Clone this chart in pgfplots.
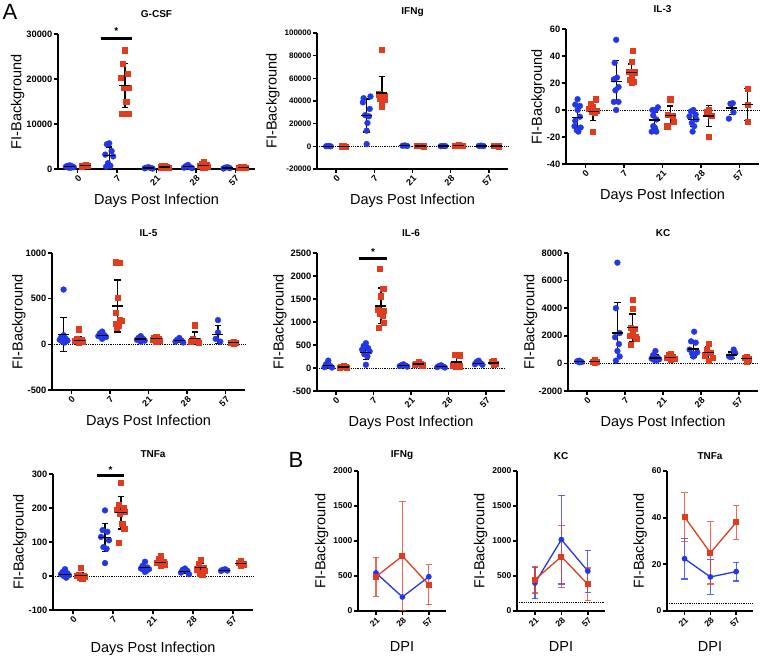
\documentclass[border=0pt]{standalone}
\usepackage{pgfplots}
\pgfplotsset{compat=1.18}
\usepackage{fontspec}
\setmainfont{Liberation Sans}
\definecolor{dblue}{RGB}{35,55,230}
\definecolor{dred}{RGB}{225,60,30}
\pgfplotsset{
  panelA/.style={
    scale only axis, clip=false, anchor=south west,
    scaled y ticks=false,
    axis lines*=left,
    axis line style={line width=1.5pt, -},
    xmin=-0.5, xmax=4.5,
    xtick={0,1,2,3,4}, xticklabels={0,7,21,28,57},
    tick align=outside, major tick length=4pt,
    tick style={line width=1.5pt, black},
    xticklabel style={rotate=45, anchor=north east, inner sep=1pt, font=\bfseries\fontsize{9}{9}\selectfont},
    yticklabel style={font=\bfseries\fontsize{9.3}{9}\selectfont, inner sep=1.5pt},
    title style={font=\bfseries\fontsize{10}{12}\selectfont, yshift=7pt},
    xlabel={Days Post Infection}, ylabel={FI-Background},
    label style={font=\fontsize{14.5}{16}\selectfont},
    xlabel style={yshift=-3pt},
    ylabel shift=-3pt,
  },
  panelB/.style={
    scale only axis, clip=false, anchor=south west,
    scaled y ticks=false,
    width=88pt, height=140pt,
    axis lines*=left,
    axis line style={line width=1.7pt, -},
    xmin=-0.68, xmax=2.65,
    xtick={0,1,2}, xticklabels={21,28,57},
    tick align=outside, major tick length=4pt,
    tick style={line width=1.7pt, black},
    xticklabel style={rotate=45, anchor=north east, inner sep=1pt, font=\bfseries\fontsize{8.5}{9}\selectfont},
    yticklabel style={font=\bfseries\fontsize{8.5}{9}\selectfont, inner sep=1.5pt},
    title style={font=\bfseries\fontsize{10}{12}\selectfont, yshift=2pt},
    xlabel={DPI}, ylabel={FI-Background},
    label style={font=\fontsize{14.5}{16}\selectfont},
    xlabel style={yshift=-9pt},
  },
  bl/.style={only marks, mark=*, mark size=2.9pt, color=dblue},
  rd/.style={only marks, mark=square*, mark size=2.6pt, color=dred},
  mn/.style={only marks, mark=-, mark size=5.5pt, black, mark options={line width=1.3pt},
    error bars/.cd, y dir=both, y explicit,
    error bar style={line width=1.2pt, black},
    error mark options={rotate=90, black, mark size=3.2pt, line width=1.2pt}},
  zl/.style={black, densely dotted, line width=0.8pt, forget plot},
  bline/.style={color=dblue, mark=*, mark size=2.2pt, line width=1.3pt,
    error bars/.cd, y dir=both, y explicit,
    error bar style={line width=1.2pt, dblue, opacity=0.75},
    error mark options={rotate=90, dblue, opacity=0.75, mark size=3.2pt, line width=1.2pt}},
  rline/.style={color=dred, mark=square*, mark size=2.4pt, line width=1.3pt,
    error bars/.cd, y dir=both, y explicit,
    error bar style={line width=1.2pt, dred, opacity=0.75},
    error mark options={rotate=90, dred, opacity=0.75, mark size=3.2pt, line width=1.2pt}},
}
\begin{document}
\begin{tikzpicture}
\useasboundingbox (0pt,0pt) rectangle (760pt,656pt);
\node[font=\fontsize{22}{22}\selectfont] at (10pt,644pt) {A};
\node[font=\fontsize{22}{22}\selectfont] at (296pt,196pt) {B};

% ---------------- G-CSF
\begin{axis}[panelA, at={(58pt,487pt)}, width=197pt, height=135pt,
  title={G-CSF}, ymin=0, ymax=30000, ytick={0,10000,20000,30000},
  yticklabels={0,10000,20000,30000}]
\addplot[bl] coordinates {(-0.2,800) (-0.26,700) (-0.14,600) (-0.3,500) (-0.1,400) (-0.23,300) (-0.17,300)
 (0.8,5700) (0.74,5500) (0.86,4000) (0.7,3200) (0.9,2800) (0.77,1300) (0.83,700) (0.72,500)
 (1.8,400) (1.74,300) (1.86,200) (1.7,150) (1.9,100)
 (2.8,900) (2.74,600) (2.86,400) (2.7,300) (2.9,200)
 (3.8,400) (3.74,300) (3.86,200) (3.7,100)};
\addplot[rd] coordinates {(0.2,900) (0.14,800) (0.26,700) (0.1,600)
 (1.2,26400) (1.14,23400) (1.26,21100) (1.1,20300) (1.3,18100) (1.17,18100) (1.23,15000) (1.12,12200) (1.28,12200)
 (2.2,700) (2.14,600) (2.26,500) (2.1,400) (2.3,300) (2.17,200)
 (3.2,1500) (3.14,1200) (3.26,900) (3.1,700) (3.3,500) (3.17,300) (3.23,200)
 (4.2,500) (4.14,400) (4.26,300) (4.1,200)};
\addplot[mn] coordinates {(-0.2,550) +- (0,180) (0.2,750) +- (0,130) (0.8,3000) +- (0,1900) (1.2,18600) +- (0,4900)
 (1.8,230) +- (0,120) (2.2,450) +- (0,190) (2.8,480) +- (0,280) (3.2,760) +- (0,470) (3.8,250) +- (0,130) (4.2,350) +- (0,130)};
\draw[line width=3pt] (axis cs:0.58,28900) -- (axis cs:1.37,28900);
\node[font=\bfseries\fontsize{10}{10}\selectfont] at (axis cs:0.98,30600) {*};
\end{axis}

% ---------------- IFNg
\begin{axis}[panelA, at={(317pt,487pt)}, width=191pt, height=136pt,
  title={IFNg}, ymin=-20000, ymax=100000, ytick={-20000,0,20000,40000,60000,80000,100000},
  yticklabels={-20000,0,20000,40000,60000,80000,100000}, ylabel shift=0pt,
  yticklabel style={font=\bfseries\fontsize{8}{9}\selectfont}]
\addplot[zl] coordinates {(-0.5,0) (4.5,0)};
\addplot[bl] coordinates {(-0.2,300) (-0.26,100) (-0.14,0)
 (0.9,44000) (0.72,42500) (0.7,38800) (0.88,33000) (0.76,27500) (0.86,26500) (0.82,20600) (0.8,13800) (0.8,2000)
 (1.8,800) (1.74,500) (1.86,300)
 (2.8,300) (2.74,100) (2.86,200)
 (3.8,600) (3.74,400) (3.86,200)};
\addplot[rd] coordinates {(0.2,200) (0.14,100) (0.26,0)
 (1.2,85300) (1.12,46000) (1.28,45000) (1.2,44000) (1.14,42000) (1.26,41000) (1.2,39000) (1.2,35000)
 (2.2,600) (2.14,500) (2.26,400) (2.1,300) (2.3,200)
 (3.2,1200) (3.14,900) (3.26,700) (3.1,500) (3.3,300)
 (4.2,400) (4.14,300) (4.26,200)};
\addplot[mn] coordinates {(-0.2,130) +- (0,150) (0.2,100) +- (0,100) (0.8,27200) +- (0,14600) (1.2,47000) +- (0,14700)
 (1.8,530) +- (0,250) (2.2,400) +- (0,150) (2.8,200) +- (0,100) (3.2,720) +- (0,350) (3.8,400) +- (0,200) (4.2,300) +- (0,100)};
\end{axis}

% ---------------- IL-3
\begin{axis}[panelA, at={(566pt,492pt)}, width=193pt, height=135pt,
  title={IL-3}, ymin=-40, ymax=60, ytick={-40,-20,0,20,40,60},
  yticklabels={-40,-20,0,20,40,60}]
\addplot[zl] coordinates {(-0.5,0) (4.5,0)};
\addplot[bl] coordinates {(-0.2,8) (-0.26,4) (-0.14,3) (-0.2,0) (-0.14,-5) (-0.26,-8) (-0.28,-12) (-0.12,-13) (-0.22,-15) (-0.18,-16)
 (0.8,52) (0.76,35) (0.82,24) (0.74,22.7) (0.86,17) (0.78,14.6) (0.74,6) (0.86,6) (0.8,0)
 (1.88,2) (1.74,0) (1.82,0) (1.76,-4) (1.84,-7) (1.76,-12) (1.72,-16) (1.84,-16) (1.8,-13)
 (2.8,0) (2.74,-1) (2.86,-3.5) (2.7,-4.7) (2.88,-7) (2.76,-9.6) (2.82,-12) (2.78,-16)
 (3.82,5) (3.76,4.6) (3.84,-1.7) (3.72,-6.4)};
\addplot[rd] coordinates {(0.26,8) (0.14,4.6) (0.2,2.7) (0.1,0.7) (0.3,-0.5) (0.16,-1) (0.24,-2) (0.2,-16)
 (1.22,44) (1.2,36) (1.12,28.6) (1.28,28) (1.2,25) (1.14,22.7) (1.26,20.7) (1.2,20)
 (2.2,8) (2.14,-3.5) (2.26,-4) (2.28,-8.4) (2.12,-12)
 (3.2,0) (3.14,-1) (3.26,-4) (3.2,-20)
 (4.2,16) (4.2,4) (4.2,-8.4)};
\addplot[mn] coordinates {(-0.2,-5.5) +- (0,8) (0.2,-1) +- (0,6.5) (0.8,21) +- (0,15.5) (1.2,28) +- (0,6)
 (1.8,-7.5) +- (0,6) (2.2,-4) +- (0,7) (2.8,-7) +- (0,5) (3.2,-4.4) +- (0,7.7) (3.8,1.5) +- (0,5) (4.2,4) +- (0,12)};
\end{axis}

% ---------------- IL-5
\begin{axis}[panelA, at={(52pt,266pt)}, width=193pt, height=137pt,
  title={IL-5}, ymin=-500, ymax=1000, ytick={-500,0,500,1000},
  yticklabels={-500,0,500,1000}, ylabel shift=-5pt]
\addplot[zl] coordinates {(-0.5,0) (4.5,0)};
\addplot[bl] coordinates {(-0.2,600) (-0.2,100) (-0.26,80) (-0.14,60) (-0.3,50) (-0.1,40) (-0.23,30) (-0.17,20)
 (0.8,140) (0.74,120) (0.86,100) (0.7,90) (0.9,80) (0.8,60)
 (1.8,90) (1.74,70) (1.86,60) (1.7,50) (1.9,40) (1.8,30)
 (2.8,70) (2.74,50) (2.86,40) (2.7,30) (2.9,20)
 (3.8,265) (3.8,130) (3.74,60) (3.86,30)};
\addplot[rd] coordinates {(0.2,165) (0.14,60) (0.26,50) (0.1,40) (0.3,30) (0.2,20)
 (1.14,900) (1.26,890) (1.2,510) (1.14,350) (1.26,270) (1.3,260) (1.14,230) (1.22,200) (1.18,180)
 (2.2,80) (2.14,70) (2.26,60) (2.1,50) (2.3,40) (2.2,30)
 (3.2,210) (3.14,60) (3.26,40) (3.1,30) (3.3,20)
 (4.2,30) (4.14,20) (4.26,15) (4.2,10)};
\addplot[mn] coordinates {(-0.2,105) +- (0,185) (0.2,45) +- (0,45) (0.8,95) +- (0,28) (1.2,420) +- (0,285)
 (1.8,60) +- (0,20) (2.2,65) +- (0,20) (2.8,40) +- (0,20) (3.2,65) +- (0,70) (3.8,110) +- (0,100) (4.2,20) +- (0,8)};
\end{axis}

% ---------------- IL-6
\begin{axis}[panelA, at={(317pt,265pt)}, width=188pt, height=138pt,
  title={IL-6}, ymin=-500, ymax=2500, ytick={-500,0,500,1000,1500,2000,2500},
  yticklabels={-500,0,500,1000,1500,2000,2500}, ylabel shift=-1pt]
\addplot[zl] coordinates {(-0.5,0) (4.5,0)};
\addplot[bl] coordinates {(-0.2,160) (-0.26,80) (-0.14,40) (-0.3,20) (-0.1,10)
 (0.8,540) (0.74,480) (0.86,430) (0.7,400) (0.9,360) (0.76,300) (0.84,250) (0.8,70)
 (1.8,80) (1.74,60) (1.86,50) (1.7,40) (1.9,30)
 (2.8,60) (2.74,40) (2.86,30) (2.7,20) (2.9,10)
 (3.8,160) (3.74,130) (3.86,100) (3.7,80) (3.9,70)};
\addplot[rd] coordinates {(0.2,40) (0.14,30) (0.26,20) (0.1,10) (0.3,5)
 (1.16,2160) (1.26,1730) (1.2,1560) (1.12,1280) (1.28,1250) (1.18,1180) (1.24,1140) (1.28,990) (1.14,870)
 (2.2,130) (2.14,100) (2.26,90) (2.1,80) (2.3,60)
 (3.16,290) (3.28,280) (3.2,100) (3.12,60) (3.3,40) (3.2,20)
 (4.2,160) (4.14,130) (4.26,100) (4.2,80)};
\addplot[mn] coordinates {(-0.2,60) +- (0,60) (0.2,20) +- (0,15) (0.8,335) +- (0,145) (1.2,1350) +- (0,390)
 (1.8,55) +- (0,20) (2.2,90) +- (0,25) (2.8,35) +- (0,20) (3.2,130) +- (0,120) (3.8,105) +- (0,35) (4.2,110) +- (0,35)};
\draw[line width=3pt] (axis cs:0.62,2380) -- (axis cs:1.37,2380);
\node[font=\bfseries\fontsize{10}{10}\selectfont] at (axis cs:0.99,2520) {*};
\end{axis}

% ---------------- KC
\begin{axis}[panelA, at={(568pt,265pt)}, width=190pt, height=138pt,
  title={KC}, ymin=-2000, ymax=8000, ytick={-2000,0,2000,4000,6000,8000},
  yticklabels={-2000,0,2000,4000,6000,8000}, ylabel shift=-4pt]
\addplot[zl] coordinates {(-0.5,0) (4.5,0)};
\addplot[bl] coordinates {(-0.2,200) (-0.26,150) (-0.14,100) (-0.2,80)
 (0.8,7300) (0.76,4000) (0.86,2200) (0.74,1900) (0.84,1400) (0.8,900) (0.86,500) (0.76,200)
 (1.8,900) (1.74,600) (1.86,400) (1.7,350) (1.9,300) (1.77,250) (1.83,200)
 (2.82,2300) (2.74,1600) (2.86,1500) (2.7,1000) (2.9,800) (2.77,700) (2.83,600) (2.8,500)
 (3.86,1000) (3.9,750) (3.74,500) (3.8,450)};
\addplot[rd] coordinates {(0.2,250) (0.14,150) (0.26,100) (0.2,80)
 (1.2,4600) (1.2,3950) (1.14,2600) (1.26,2500) (1.2,2300) (1.12,2000) (1.28,1900) (1.3,1800) (1.14,1350)
 (2.2,700) (2.14,600) (2.26,500) (2.1,400) (2.3,350) (2.2,300)
 (3.2,1400) (3.14,1000) (3.26,800) (3.1,600) (3.3,400) (3.2,200)
 (4.2,500) (4.14,400) (4.26,300) (4.2,100)};
\addplot[mn] coordinates {(-0.2,130) +- (0,50) (0.2,140) +- (0,60) (0.8,2200) +- (0,2200) (1.2,2580) +- (0,1000)
 (1.8,400) +- (0,230) (2.2,450) +- (0,150) (2.8,1050) +- (0,600) (3.2,780) +- (0,420) (3.8,600) +- (0,230) (4.2,370) +- (0,180)};
\end{axis}

% ---------------- TNFa
\begin{axis}[panelA, at={(53pt,46pt)}, width=200pt, height=136pt,
  title={TNFa}, ymin=-100, ymax=300, ytick={-100,0,100,200,300},
  yticklabels={-100,0,100,200,300}, xlabel style={yshift=-7pt}]
\addplot[zl] coordinates {(-0.5,0) (4.5,0)};
\addplot[bl] coordinates {(-0.2,20) (-0.26,12) (-0.14,8) (-0.3,5) (-0.1,2) (-0.23,0) (-0.17,-5)
 (0.8,193) (0.74,135) (0.86,130) (0.7,115) (0.9,105) (0.76,85) (0.84,80) (0.8,38)
 (1.8,42) (1.74,30) (1.86,25) (1.7,22) (1.9,20) (1.77,18) (1.83,15) (1.8,12)
 (2.8,22) (2.74,18) (2.86,15) (2.7,10) (2.9,5)
 (3.8,20) (3.74,18) (3.86,16) (3.7,15)};
\addplot[rd] coordinates {(0.2,25) (0.14,5) (0.26,2) (0.1,0) (0.3,-2) (0.17,-5) (0.23,-7)
 (1.2,275) (1.14,210) (1.26,200) (1.1,195) (1.3,190) (1.17,185) (1.23,155) (1.28,138) (1.14,97)
 (2.2,60) (2.14,50) (2.26,42) (2.1,38) (2.3,35) (2.2,30)
 (3.2,48) (3.14,35) (3.26,25) (3.1,20) (3.3,15) (3.17,8) (3.23,5)
 (4.2,45) (4.14,38) (4.26,35) (4.2,30)};
\addplot[mn] coordinates {(-0.2,5) +- (0,10) (0.2,2) +- (0,8) (0.8,114) +- (0,41) (1.2,186) +- (0,48)
 (1.8,24) +- (0,8) (2.2,40) +- (0,10) (2.8,14) +- (0,7) (3.2,25) +- (0,13) (3.8,17) +- (0,3) (4.2,37) +- (0,6)};
\draw[line width=3pt] (axis cs:0.6,295) -- (axis cs:1.28,295);
\node[font=\bfseries\fontsize{10}{10}\selectfont] at (axis cs:0.94,312) {*};
\end{axis}

% ---------------- B: IFNg
\begin{axis}[panelB, at={(358pt,45pt)}, title={IFNg},
  ymin=0, ymax=2000, ytick={0,500,1000,1500,2000}, yticklabels={0,500,1000,1500,2000}]
\addplot[bline] coordinates {(0,545) (1,200) (2,490)};
\addplot[rline] coordinates {(0,490) +- (0,280) (1,785) +- (0,775) (2,375) +- (0,285)};
\end{axis}

% ---------------- B: KC
\begin{axis}[panelB, at={(517pt,45pt)}, title={KC},
  ymin=0, ymax=2000, ytick={0,500,1000,1500,2000}, yticklabels={0,500,1000,1500,2000}]
\addplot[zl] coordinates {(-0.68,129) (2.65,129)};
\addplot[bline] coordinates {(0,400) +- (0,225) (1,1020) +- (0,633) (2,570) +- (0,300)};
\addplot[rline] coordinates {(0,448) +- (0,192) (1,776) +- (0,441) (2,381) +- (0,234)};
\end{axis}

% ---------------- B: TNFa
\begin{axis}[panelB, at={(667pt,45pt)}, width=86pt, title={TNFa},
  ymin=0, ymax=60, ytick={0,20,40,60}, yticklabels={0,20,40,60}]
\addplot[zl] coordinates {(-0.68,3.4) (2.65,3.4)};
\addplot[bline] coordinates {(0,22.4) +- (0,8.7) (1,14.6) +- (0,7.4) (2,16.9) +- (0,4)};
\addplot[rline] coordinates {(0,40.3) +- (0,10.4) (1,24.9) +- (0,13.3) (2,38) +- (0,7.2)};
\end{axis}
\end{tikzpicture}
\end{document}
